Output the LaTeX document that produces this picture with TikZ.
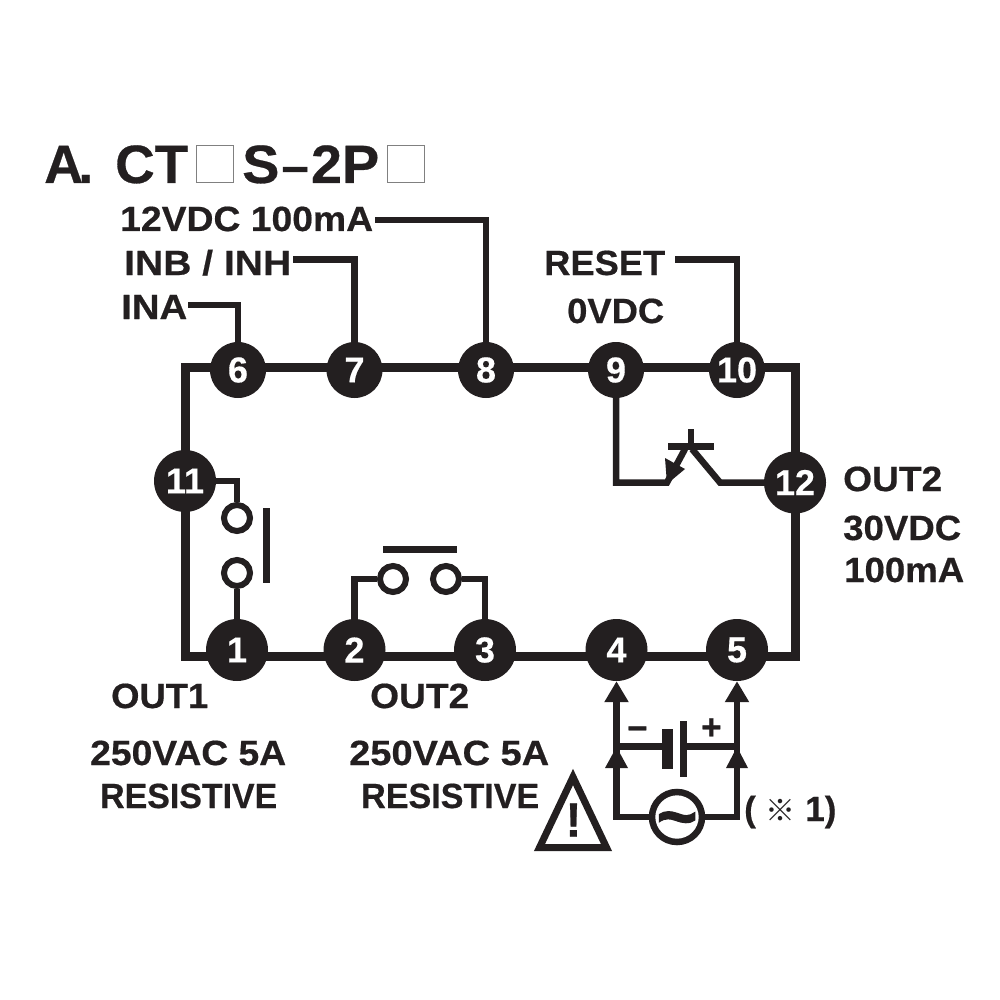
\documentclass[tikz,border=0pt]{standalone}
\usepackage{fontspec}
\setmainfont{Liberation Sans}[BoldFont={* Bold}]
\newfontfamily\labfont{Liberation Sans Bold}[FakeBold=0.5]
\newfontfamily\numfont{Liberation Sans Bold}[FakeBold=0.4]
\newfontfamily\cjkfont{Noto Sans CJK JP}
\newfontfamily\tilfont{Liberation Sans Bold}[FakeBold=1.6]
\usetikzlibrary{arrows.meta}
\definecolor{ink}{HTML}{231F20}
\definecolor{boxgray}{HTML}{808080}
\pgfdeclarelayer{wires}
\pgfsetlayers{wires,main}
\newcommand{\fitw}[2]{\resizebox{#1pt}{\height}{#2}}
\tikzset{
  x=1pt,y=-1pt,
  lab/.style={anchor=base west,inner sep=0pt,text=ink,font=\labfont\fontsize{35}{37}\selectfont},
  ttl/.style={anchor=base west,inner sep=0pt,text=ink,font=\labfont\fontsize{54}{56}\selectfont},
  term/.style={circle,fill=ink,text=white,inner sep=0pt,minimum size=#1,font=\numfont\fontsize{36}{38}\selectfont},
  term/.default=56pt,
  wire/.style={draw=ink,line width=6.5pt,line join=miter},
  frame/.style={draw=ink,line width=9pt,line join=miter},
  contact/.style={circle,draw=ink,fill=white,line width=6pt,inner sep=0pt,minimum size=26pt},
  barline/.style={draw=ink,line width=7pt},
  grayb/.style={draw=boxgray,line width=1.8pt,fill=white,minimum size=37pt,inner sep=0pt,rectangle},
  tipw/.style={-{Triangle[length=21pt,width=23pt,sep=0pt]}},
}
\begin{document}
\begin{tikzpicture}
\useasboundingbox (0,0) rectangle (1000,1000);
% titles
\node[ttl] (tA) at (44,183) {A\kern-5pt.};
\node[ttl] (tCT) at (115,183) {\fitw{73}{CT}};
\node[grayb] (b1) at (215,164) {};
\node[ttl] (tS) at (242,183) {\fitw{137}{S\raisebox{3pt}{\scalebox{1.7}[0.75]{-}}2P}};
\node[grayb] (b2) at (406,164) {};
% labels
\node[lab] (l12) at (120,231) {\fitw{253}{12VDC 100mA}};
\node[lab] (linb) at (124,275) {\fitw{167}{INB / INH}};
\node[lab] (lina) at (121,319) {\fitw{66}{INA}};
\node[lab] (lres) at (544,275) {\fitw{121}{RESET}};
\node[lab] (l0v) at (567,323) {\fitw{97}{0VDC}};
\node[lab] (lo2r) at (843,491) {\fitw{99}{OUT2}};
\node[lab] (l30) at (843,540) {\fitw{118}{30VDC}};
\node[lab] (l100) at (844,582) {\fitw{120}{100mA}};
\node[lab] (lo1) at (111,708) {\fitw{97}{OUT1}};
\node[lab] (l250a) at (90,765) {\fitw{196}{250VAC 5A}};
\node[lab] (lra) at (100,808) {\fitw{177}{RESISTIVE}};
\node[lab] (lo2) at (370,708) {\fitw{99}{OUT2}};
\node[lab] (l250b) at (349,765) {\fitw{200}{250VAC 5A}};
\node[lab] (lrb) at (361,808) {\fitw{178}{RESISTIVE}};
\node[lab] (lnote) at (744,821) {( {\cjkfont\fontsize{30}{32}\selectfont ※} 1)};
\node[lab] (lminus) at (627,740) {−};
\node[lab] (lplus) at (701,739) {+};
% terminals
\node[term] (n6) at (238,370) {6};
\node[term] (n7) at (354.5,370) {7};
\node[term] (n8) at (486,370) {8};
\node[term] (n9) at (616,370) {9};
\node[term] (n10) at (737,370) {10};
\node[term=62pt] (n11) at (185,481) {11};
\node[term=62pt] (n12) at (795,482.5) {12};
\node[term=62pt] (n1) at (237,650) {1};
\node[term=62pt] (n2) at (354.5,650) {2};
\node[term=62pt] (n3) at (485,650) {3};
\node[term=62pt] (n4) at (616.5,650) {4};
\node[term=62pt] (n5) at (737,650) {5};
% contacts
\node[contact] (c1) at (237,518) {};
\node[contact] (c2) at (237,573) {};
\node[contact] (c3) at (393,579) {};
\node[contact] (c4) at (446,579) {};
% AC source
\node[circle,draw=ink,fill=white,line width=6.5pt,minimum size=50pt,inner sep=0pt] (ac) at (677,817) {};
\node[inner sep=0pt,text=ink,font=\tilfont\fontsize{70}{70}\selectfont] (til) at (677,826) {\char"7E};
% coordinates
\coordinate (ctl) at (185,367);
\coordinate (ctr) at (795,367);
\coordinate (ctm) at (238,367);
\coordinate (cbl) at (185,656);
\coordinate (cbr) at (795,656);
\coordinate (j4) at (616.5,746.5);
\coordinate (j5) at (737,746.5);
\coordinate (bneg) at (667,746.5);
\coordinate (bpos) at (683,746.5);
\coordinate (q1) at (667,482.5);
\coordinate (q2) at (720,482.5);
\coordinate (qb) at (691,446.5);
\coordinate (qt) at (691,429);
% warning triangle
\coordinate (w1) at (573,777);
\coordinate (w2) at (539.5,847.5);
\coordinate (w3) at (606.5,847.5);
\draw[draw=ink,line width=7pt,line join=miter] (w1) -- (w2) -- (w3) -- cycle;
\node[inner sep=0pt,text=ink,font=\labfont\fontsize{48}{50}\selectfont] (wex) at (573.5,820) {!};
% wires
\begin{pgfonlayer}{wires}
\draw[frame] (ctm) -- (ctl) -- (cbl) -- (cbr) -- (ctr) -- cycle;
\draw[wire] (188,305) -- (238,305) -- (n6.center);
\draw[wire] (293,259.5) -- (354.5,259.5) -- (n7.center);
\draw[wire] (375,220) -- (486,220) -- (n8.center);
\draw[wire] (675,259.5) -- (737,259.5) -- (n10.center);
% transistor
\draw[wire] (n9.center) |- (q1) -- (685,449);
\draw[wire] (692,449) -- (q2) -- (n12.center);
\draw[barline] (668,446.5) -- (714,446.5);
\draw[wire] (qb) -- (qt);
\fill[ink] (665,458) -- (685,469) -- (667,484) -- cycle;
% relay contacts
\draw[wire,line width=5.5pt] (n11.center) -- (237,481) -- (c1);
\draw[wire] (c2) -- (n1);
\draw[barline] (266.5,508) -- (266.5,583);
\draw[wire] (n2.center) -- (354.5,579) -- (c3);
\draw[wire] (c4) -- (485,579) -- (n3.center);
\draw[barline] (383,549.5) -- (457,549.5);
% supply
\draw[wire] (ac) -| (j4);
\draw[wire] (ac) -| (j5);
\draw[wire,tipw] (j4) -- (n4.south);
\draw[wire,tipw] (j5) -- (n5.south);
\draw[wire] (j4) -- (bneg);
\draw[wire] (bpos) -- (j5);
\end{pgfonlayer}
% inner arrowheads and plates
\fill[ink] (616.5,747) -- (605,768) -- (628,768) -- cycle;
\fill[ink] (737,747) -- (726,768) -- (748,768) -- cycle;
\fill[ink] (662,729) rectangle (673,769);
\fill[ink] (680,721) rectangle (687,777);
\end{tikzpicture}
\end{document}
